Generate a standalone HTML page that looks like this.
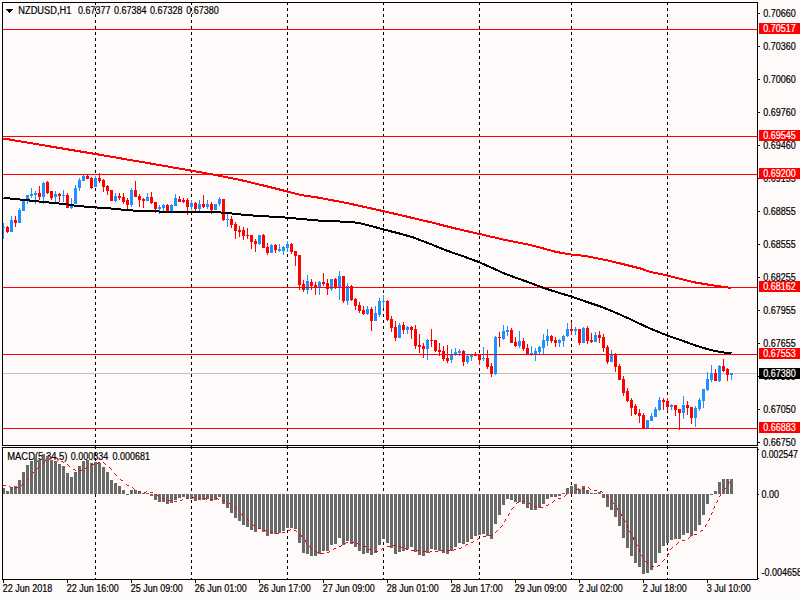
<!DOCTYPE html>
<html><head><meta charset="utf-8"><title>NZDUSD,H1</title>
<style>html,body{margin:0;padding:0;background:#fffafa;overflow:hidden}body{width:800px;height:600px;position:relative}svg{position:absolute;left:0;top:0;display:block}text{font-family:"Liberation Sans",sans-serif;font-size:10px;fill:#000;stroke:#000;stroke-width:.2px}.w{fill:#fff;stroke:#fff}</style>
</head><body>
<svg width="800" height="600" viewBox="0 0 800 600">
<rect x="0" y="0" width="800" height="600" fill="#fffafa"/>
<path shape-rendering="crispEdges" d="M6 9h7v1h-1v1h-1v1h-1v1h-1v-1h-1v-1h-1v-1h-1z" fill="#000"/>
<text x="18.3" y="14" textLength="53.00" lengthAdjust="spacingAndGlyphs">NZDUSD,H1</text>
<text x="78" y="14" textLength="32.53" lengthAdjust="spacingAndGlyphs">0.67377</text>
<text x="114.05" y="14" textLength="32.53" lengthAdjust="spacingAndGlyphs">0.67384</text>
<text x="150.1" y="14" textLength="32.53" lengthAdjust="spacingAndGlyphs">0.67328</text>
<text x="186.15" y="14" textLength="32.53" lengthAdjust="spacingAndGlyphs">0.67380</text>
<text x="7.2" y="460" textLength="60.30" lengthAdjust="spacingAndGlyphs">MACD(5,34,5)</text>
<text x="70.8" y="460" textLength="37.54" lengthAdjust="spacingAndGlyphs">0.000834</text>
<text x="112.5" y="460" textLength="37.54" lengthAdjust="spacingAndGlyphs">0.000681</text>
<g shape-rendering="crispEdges">
<line x1="95.5" y1="2" x2="95.5" y2="579" stroke="#000" stroke-width="1" stroke-dasharray="3 3"/>
<line x1="191.5" y1="2" x2="191.5" y2="579" stroke="#000" stroke-width="1" stroke-dasharray="3 3"/>
<line x1="287.5" y1="2" x2="287.5" y2="579" stroke="#000" stroke-width="1" stroke-dasharray="3 3"/>
<line x1="383.5" y1="2" x2="383.5" y2="579" stroke="#000" stroke-width="1" stroke-dasharray="3 3"/>
<line x1="479.5" y1="2" x2="479.5" y2="579" stroke="#000" stroke-width="1" stroke-dasharray="3 3"/>
<line x1="571.5" y1="2" x2="571.5" y2="579" stroke="#000" stroke-width="1" stroke-dasharray="3 3"/>
<line x1="667.5" y1="2" x2="667.5" y2="579" stroke="#000" stroke-width="1" stroke-dasharray="3 3"/>
<rect x="3" y="373" width="754" height="1" fill="#c0c0c0"/>
<rect x="3" y="223" width="1" height="16" fill="#1e90ff"/>
<rect x="2" y="227" width="3" height="1" fill="#1e90ff"/>
<rect x="7" y="226" width="1" height="7" fill="#ff0000"/>
<rect x="6" y="227" width="3" height="5" fill="#ff0000"/>
<rect x="11" y="216" width="1" height="16" fill="#1e90ff"/>
<rect x="10" y="220" width="3" height="12" fill="#1e90ff"/>
<rect x="15" y="216" width="1" height="11" fill="#ff0000"/>
<rect x="14" y="220" width="3" height="3" fill="#ff0000"/>
<rect x="19" y="208" width="1" height="15" fill="#1e90ff"/>
<rect x="18" y="210" width="3" height="13" fill="#1e90ff"/>
<rect x="23" y="199" width="1" height="12" fill="#1e90ff"/>
<rect x="22" y="200" width="3" height="11" fill="#1e90ff"/>
<rect x="27" y="195" width="1" height="9" fill="#1e90ff"/>
<rect x="26" y="195" width="3" height="5" fill="#1e90ff"/>
<rect x="31" y="188" width="1" height="10" fill="#1e90ff"/>
<rect x="30" y="194" width="3" height="2" fill="#1e90ff"/>
<rect x="35" y="191" width="1" height="13" fill="#1e90ff"/>
<rect x="34" y="193" width="3" height="2" fill="#1e90ff"/>
<rect x="39" y="186" width="1" height="14" fill="#ff0000"/>
<rect x="38" y="193" width="3" height="4" fill="#ff0000"/>
<rect x="43" y="182" width="1" height="22" fill="#1e90ff"/>
<rect x="42" y="183" width="3" height="14" fill="#1e90ff"/>
<rect x="47" y="181" width="1" height="13" fill="#ff0000"/>
<rect x="46" y="182" width="3" height="11" fill="#ff0000"/>
<rect x="51" y="191" width="1" height="9" fill="#ff0000"/>
<rect x="50" y="191" width="3" height="7" fill="#ff0000"/>
<rect x="55" y="191" width="1" height="11" fill="#1e90ff"/>
<rect x="54" y="194" width="3" height="3" fill="#1e90ff"/>
<rect x="59" y="193" width="1" height="9" fill="#ff0000"/>
<rect x="58" y="194" width="3" height="2" fill="#ff0000"/>
<rect x="63" y="190" width="1" height="12" fill="#1e90ff"/>
<rect x="62" y="195" width="3" height="1" fill="#1e90ff"/>
<rect x="67" y="193" width="1" height="15" fill="#ff0000"/>
<rect x="66" y="195" width="3" height="13" fill="#ff0000"/>
<rect x="71" y="198" width="1" height="11" fill="#1e90ff"/>
<rect x="70" y="204" width="3" height="4" fill="#1e90ff"/>
<rect x="75" y="185" width="1" height="19" fill="#1e90ff"/>
<rect x="74" y="188" width="3" height="16" fill="#1e90ff"/>
<rect x="79" y="178" width="1" height="13" fill="#1e90ff"/>
<rect x="78" y="180" width="3" height="8" fill="#1e90ff"/>
<rect x="83" y="175" width="1" height="6" fill="#1e90ff"/>
<rect x="82" y="176" width="3" height="5" fill="#1e90ff"/>
<rect x="87" y="175" width="1" height="4" fill="#ff0000"/>
<rect x="86" y="176" width="3" height="3" fill="#ff0000"/>
<rect x="91" y="177" width="1" height="12" fill="#ff0000"/>
<rect x="90" y="178" width="3" height="10" fill="#ff0000"/>
<rect x="95" y="176" width="1" height="11" fill="#1e90ff"/>
<rect x="94" y="178" width="3" height="9" fill="#1e90ff"/>
<rect x="99" y="173" width="1" height="10" fill="#ff0000"/>
<rect x="98" y="178" width="3" height="3" fill="#ff0000"/>
<rect x="103" y="179" width="1" height="13" fill="#ff0000"/>
<rect x="102" y="180" width="3" height="7" fill="#ff0000"/>
<rect x="107" y="185" width="1" height="10" fill="#ff0000"/>
<rect x="106" y="186" width="3" height="5" fill="#ff0000"/>
<rect x="111" y="190" width="1" height="11" fill="#ff0000"/>
<rect x="110" y="190" width="3" height="11" fill="#ff0000"/>
<rect x="115" y="193" width="1" height="9" fill="#1e90ff"/>
<rect x="114" y="196" width="3" height="5" fill="#1e90ff"/>
<rect x="119" y="193" width="1" height="7" fill="#ff0000"/>
<rect x="118" y="196" width="3" height="2" fill="#ff0000"/>
<rect x="123" y="193" width="1" height="11" fill="#ff0000"/>
<rect x="122" y="197" width="3" height="5" fill="#ff0000"/>
<rect x="127" y="198" width="1" height="11" fill="#ff0000"/>
<rect x="126" y="200" width="3" height="5" fill="#ff0000"/>
<rect x="131" y="188" width="1" height="19" fill="#1e90ff"/>
<rect x="130" y="190" width="3" height="15" fill="#1e90ff"/>
<rect x="135" y="181" width="1" height="16" fill="#ff0000"/>
<rect x="134" y="190" width="3" height="7" fill="#ff0000"/>
<rect x="139" y="194" width="1" height="13" fill="#ff0000"/>
<rect x="138" y="196" width="3" height="4" fill="#ff0000"/>
<rect x="143" y="198" width="1" height="10" fill="#ff0000"/>
<rect x="142" y="199" width="3" height="2" fill="#ff0000"/>
<rect x="147" y="193" width="1" height="8" fill="#1e90ff"/>
<rect x="146" y="197" width="3" height="4" fill="#1e90ff"/>
<rect x="151" y="192" width="1" height="12" fill="#ff0000"/>
<rect x="150" y="197" width="3" height="6" fill="#ff0000"/>
<rect x="155" y="202" width="1" height="11" fill="#ff0000"/>
<rect x="154" y="202" width="3" height="7" fill="#ff0000"/>
<rect x="159" y="205" width="1" height="9" fill="#1e90ff"/>
<rect x="158" y="207" width="3" height="2" fill="#1e90ff"/>
<rect x="163" y="204" width="1" height="7" fill="#1e90ff"/>
<rect x="162" y="205" width="3" height="3" fill="#1e90ff"/>
<rect x="167" y="204" width="1" height="7" fill="#ff0000"/>
<rect x="166" y="205" width="3" height="6" fill="#ff0000"/>
<rect x="171" y="204" width="1" height="7" fill="#1e90ff"/>
<rect x="170" y="205" width="3" height="6" fill="#1e90ff"/>
<rect x="175" y="194" width="1" height="12" fill="#1e90ff"/>
<rect x="174" y="198" width="3" height="8" fill="#1e90ff"/>
<rect x="179" y="196" width="1" height="6" fill="#ff0000"/>
<rect x="178" y="199" width="3" height="3" fill="#ff0000"/>
<rect x="183" y="198" width="1" height="5" fill="#ff0000"/>
<rect x="182" y="200" width="3" height="2" fill="#ff0000"/>
<rect x="187" y="198" width="1" height="17" fill="#ff0000"/>
<rect x="186" y="200" width="3" height="7" fill="#ff0000"/>
<rect x="191" y="200" width="1" height="10" fill="#1e90ff"/>
<rect x="190" y="203" width="3" height="4" fill="#1e90ff"/>
<rect x="195" y="202" width="1" height="9" fill="#ff0000"/>
<rect x="194" y="203" width="3" height="6" fill="#ff0000"/>
<rect x="199" y="200" width="1" height="11" fill="#1e90ff"/>
<rect x="198" y="204" width="3" height="5" fill="#1e90ff"/>
<rect x="203" y="195" width="1" height="13" fill="#ff0000"/>
<rect x="202" y="204" width="3" height="3" fill="#ff0000"/>
<rect x="207" y="200" width="1" height="9" fill="#1e90ff"/>
<rect x="206" y="204" width="3" height="3" fill="#1e90ff"/>
<rect x="211" y="202" width="1" height="12" fill="#ff0000"/>
<rect x="210" y="204" width="3" height="6" fill="#ff0000"/>
<rect x="215" y="204" width="1" height="6" fill="#1e90ff"/>
<rect x="214" y="204" width="3" height="6" fill="#1e90ff"/>
<rect x="219" y="197" width="1" height="9" fill="#1e90ff"/>
<rect x="218" y="199" width="3" height="5" fill="#1e90ff"/>
<rect x="223" y="199" width="1" height="22" fill="#ff0000"/>
<rect x="222" y="199" width="3" height="21" fill="#ff0000"/>
<rect x="227" y="214" width="1" height="13" fill="#1e90ff"/>
<rect x="226" y="219" width="3" height="1" fill="#1e90ff"/>
<rect x="231" y="216" width="1" height="12" fill="#ff0000"/>
<rect x="230" y="219" width="3" height="6" fill="#ff0000"/>
<rect x="235" y="222" width="1" height="17" fill="#ff0000"/>
<rect x="234" y="224" width="3" height="7" fill="#ff0000"/>
<rect x="239" y="226" width="1" height="11" fill="#ff0000"/>
<rect x="238" y="230" width="3" height="2" fill="#ff0000"/>
<rect x="243" y="227" width="1" height="13" fill="#ff0000"/>
<rect x="242" y="230" width="3" height="6" fill="#ff0000"/>
<rect x="247" y="228" width="1" height="11" fill="#ff0000"/>
<rect x="246" y="235" width="3" height="1" fill="#ff0000"/>
<rect x="251" y="235" width="1" height="14" fill="#ff0000"/>
<rect x="250" y="235" width="3" height="7" fill="#ff0000"/>
<rect x="255" y="239" width="1" height="13" fill="#ff0000"/>
<rect x="254" y="241" width="3" height="3" fill="#ff0000"/>
<rect x="259" y="235" width="1" height="10" fill="#1e90ff"/>
<rect x="258" y="235" width="3" height="9" fill="#1e90ff"/>
<rect x="263" y="234" width="1" height="14" fill="#ff0000"/>
<rect x="262" y="235" width="3" height="13" fill="#ff0000"/>
<rect x="267" y="243" width="1" height="12" fill="#ff0000"/>
<rect x="266" y="247" width="3" height="6" fill="#ff0000"/>
<rect x="271" y="244" width="1" height="9" fill="#1e90ff"/>
<rect x="270" y="245" width="3" height="8" fill="#1e90ff"/>
<rect x="275" y="244" width="1" height="9" fill="#ff0000"/>
<rect x="274" y="245" width="3" height="5" fill="#ff0000"/>
<rect x="279" y="244" width="1" height="8" fill="#1e90ff"/>
<rect x="278" y="249" width="3" height="2" fill="#1e90ff"/>
<rect x="283" y="246" width="1" height="9" fill="#1e90ff"/>
<rect x="282" y="247" width="3" height="4" fill="#1e90ff"/>
<rect x="287" y="241" width="1" height="11" fill="#1e90ff"/>
<rect x="286" y="244" width="3" height="4" fill="#1e90ff"/>
<rect x="291" y="243" width="1" height="11" fill="#ff0000"/>
<rect x="290" y="244" width="3" height="8" fill="#ff0000"/>
<rect x="295" y="251" width="1" height="15" fill="#ff0000"/>
<rect x="294" y="251" width="3" height="5" fill="#ff0000"/>
<rect x="299" y="255" width="1" height="35" fill="#ff0000"/>
<rect x="298" y="255" width="3" height="30" fill="#ff0000"/>
<rect x="303" y="280" width="1" height="12" fill="#ff0000"/>
<rect x="302" y="284" width="3" height="6" fill="#ff0000"/>
<rect x="307" y="275" width="1" height="19" fill="#1e90ff"/>
<rect x="306" y="281" width="3" height="9" fill="#1e90ff"/>
<rect x="311" y="279" width="1" height="11" fill="#ff0000"/>
<rect x="310" y="282" width="3" height="4" fill="#ff0000"/>
<rect x="315" y="282" width="1" height="13" fill="#ff0000"/>
<rect x="314" y="285" width="3" height="2" fill="#ff0000"/>
<rect x="319" y="281" width="1" height="14" fill="#1e90ff"/>
<rect x="318" y="282" width="3" height="5" fill="#1e90ff"/>
<rect x="323" y="273" width="1" height="13" fill="#ff0000"/>
<rect x="322" y="282" width="3" height="2" fill="#ff0000"/>
<rect x="327" y="279" width="1" height="16" fill="#ff0000"/>
<rect x="326" y="283" width="3" height="6" fill="#ff0000"/>
<rect x="331" y="279" width="1" height="12" fill="#1e90ff"/>
<rect x="330" y="279" width="3" height="10" fill="#1e90ff"/>
<rect x="335" y="278" width="1" height="11" fill="#ff0000"/>
<rect x="334" y="279" width="3" height="9" fill="#ff0000"/>
<rect x="339" y="271" width="1" height="29" fill="#1e90ff"/>
<rect x="338" y="276" width="3" height="11" fill="#1e90ff"/>
<rect x="343" y="276" width="1" height="27" fill="#ff0000"/>
<rect x="342" y="276" width="3" height="25" fill="#ff0000"/>
<rect x="347" y="283" width="1" height="22" fill="#1e90ff"/>
<rect x="346" y="286" width="3" height="15" fill="#1e90ff"/>
<rect x="351" y="285" width="1" height="16" fill="#ff0000"/>
<rect x="350" y="286" width="3" height="14" fill="#ff0000"/>
<rect x="355" y="298" width="1" height="12" fill="#ff0000"/>
<rect x="354" y="299" width="3" height="7" fill="#ff0000"/>
<rect x="359" y="302" width="1" height="11" fill="#ff0000"/>
<rect x="358" y="305" width="3" height="6" fill="#ff0000"/>
<rect x="363" y="306" width="1" height="9" fill="#ff0000"/>
<rect x="362" y="310" width="3" height="4" fill="#ff0000"/>
<rect x="367" y="306" width="1" height="9" fill="#1e90ff"/>
<rect x="366" y="309" width="3" height="5" fill="#1e90ff"/>
<rect x="371" y="307" width="1" height="24" fill="#ff0000"/>
<rect x="370" y="309" width="3" height="12" fill="#ff0000"/>
<rect x="375" y="306" width="1" height="15" fill="#1e90ff"/>
<rect x="374" y="313" width="3" height="8" fill="#1e90ff"/>
<rect x="379" y="298" width="1" height="19" fill="#1e90ff"/>
<rect x="378" y="301" width="3" height="14" fill="#1e90ff"/>
<rect x="383" y="295" width="1" height="13" fill="#1e90ff"/>
<rect x="382" y="301" width="3" height="1" fill="#1e90ff"/>
<rect x="387" y="300" width="1" height="21" fill="#ff0000"/>
<rect x="386" y="301" width="3" height="19" fill="#ff0000"/>
<rect x="391" y="316" width="1" height="16" fill="#ff0000"/>
<rect x="390" y="319" width="3" height="9" fill="#ff0000"/>
<rect x="395" y="321" width="1" height="20" fill="#ff0000"/>
<rect x="394" y="327" width="3" height="11" fill="#ff0000"/>
<rect x="399" y="323" width="1" height="15" fill="#1e90ff"/>
<rect x="398" y="325" width="3" height="13" fill="#1e90ff"/>
<rect x="403" y="322" width="1" height="12" fill="#ff0000"/>
<rect x="402" y="325" width="3" height="5" fill="#ff0000"/>
<rect x="407" y="326" width="1" height="8" fill="#1e90ff"/>
<rect x="406" y="327" width="3" height="3" fill="#1e90ff"/>
<rect x="411" y="326" width="1" height="13" fill="#ff0000"/>
<rect x="410" y="327" width="3" height="3" fill="#ff0000"/>
<rect x="415" y="325" width="1" height="24" fill="#ff0000"/>
<rect x="414" y="329" width="3" height="17" fill="#ff0000"/>
<rect x="419" y="334" width="1" height="19" fill="#ff0000"/>
<rect x="418" y="345" width="3" height="2" fill="#ff0000"/>
<rect x="423" y="343" width="1" height="15" fill="#ff0000"/>
<rect x="422" y="346" width="3" height="3" fill="#ff0000"/>
<rect x="427" y="339" width="1" height="21" fill="#1e90ff"/>
<rect x="426" y="340" width="3" height="9" fill="#1e90ff"/>
<rect x="431" y="329" width="1" height="18" fill="#ff0000"/>
<rect x="430" y="340" width="3" height="1" fill="#ff0000"/>
<rect x="435" y="340" width="1" height="12" fill="#ff0000"/>
<rect x="434" y="340" width="3" height="11" fill="#ff0000"/>
<rect x="439" y="343" width="1" height="13" fill="#ff0000"/>
<rect x="438" y="350" width="3" height="2" fill="#ff0000"/>
<rect x="443" y="346" width="1" height="15" fill="#ff0000"/>
<rect x="442" y="351" width="3" height="8" fill="#ff0000"/>
<rect x="447" y="345" width="1" height="18" fill="#ff0000"/>
<rect x="446" y="358" width="3" height="3" fill="#ff0000"/>
<rect x="451" y="349" width="1" height="14" fill="#1e90ff"/>
<rect x="450" y="355" width="3" height="5" fill="#1e90ff"/>
<rect x="455" y="348" width="1" height="8" fill="#1e90ff"/>
<rect x="454" y="352" width="3" height="2" fill="#1e90ff"/>
<rect x="459" y="349" width="1" height="7" fill="#1e90ff"/>
<rect x="458" y="351" width="3" height="2" fill="#1e90ff"/>
<rect x="463" y="350" width="1" height="16" fill="#ff0000"/>
<rect x="462" y="351" width="3" height="11" fill="#ff0000"/>
<rect x="467" y="355" width="1" height="9" fill="#1e90ff"/>
<rect x="466" y="356" width="3" height="6" fill="#1e90ff"/>
<rect x="471" y="355" width="1" height="6" fill="#1e90ff"/>
<rect x="470" y="355" width="3" height="2" fill="#1e90ff"/>
<rect x="475" y="352" width="1" height="4" fill="#ff0000"/>
<rect x="474" y="354" width="3" height="2" fill="#ff0000"/>
<rect x="479" y="354" width="1" height="11" fill="#ff0000"/>
<rect x="478" y="354" width="3" height="6" fill="#ff0000"/>
<rect x="483" y="347" width="1" height="14" fill="#1e90ff"/>
<rect x="482" y="358" width="3" height="1" fill="#1e90ff"/>
<rect x="487" y="350" width="1" height="19" fill="#ff0000"/>
<rect x="486" y="358" width="3" height="9" fill="#ff0000"/>
<rect x="491" y="363" width="1" height="14" fill="#ff0000"/>
<rect x="490" y="366" width="3" height="8" fill="#ff0000"/>
<rect x="495" y="336" width="1" height="39" fill="#1e90ff"/>
<rect x="494" y="337" width="3" height="37" fill="#1e90ff"/>
<rect x="499" y="332" width="1" height="15" fill="#ff0000"/>
<rect x="498" y="337" width="3" height="1" fill="#ff0000"/>
<rect x="503" y="325" width="1" height="15" fill="#1e90ff"/>
<rect x="502" y="331" width="3" height="8" fill="#1e90ff"/>
<rect x="507" y="326" width="1" height="10" fill="#1e90ff"/>
<rect x="506" y="330" width="3" height="2" fill="#1e90ff"/>
<rect x="511" y="328" width="1" height="15" fill="#ff0000"/>
<rect x="510" y="330" width="3" height="13" fill="#ff0000"/>
<rect x="515" y="337" width="1" height="10" fill="#ff0000"/>
<rect x="514" y="342" width="3" height="4" fill="#ff0000"/>
<rect x="519" y="331" width="1" height="17" fill="#1e90ff"/>
<rect x="518" y="341" width="3" height="5" fill="#1e90ff"/>
<rect x="523" y="338" width="1" height="13" fill="#ff0000"/>
<rect x="522" y="341" width="3" height="8" fill="#ff0000"/>
<rect x="527" y="344" width="1" height="10" fill="#ff0000"/>
<rect x="526" y="348" width="3" height="6" fill="#ff0000"/>
<rect x="531" y="346" width="1" height="10" fill="#1e90ff"/>
<rect x="530" y="353" width="3" height="1" fill="#1e90ff"/>
<rect x="535" y="348" width="1" height="13" fill="#1e90ff"/>
<rect x="534" y="351" width="3" height="3" fill="#1e90ff"/>
<rect x="539" y="346" width="1" height="8" fill="#1e90ff"/>
<rect x="538" y="347" width="3" height="5" fill="#1e90ff"/>
<rect x="543" y="334" width="1" height="20" fill="#1e90ff"/>
<rect x="542" y="340" width="3" height="8" fill="#1e90ff"/>
<rect x="547" y="329" width="1" height="17" fill="#1e90ff"/>
<rect x="546" y="336" width="3" height="5" fill="#1e90ff"/>
<rect x="551" y="335" width="1" height="8" fill="#ff0000"/>
<rect x="550" y="336" width="3" height="5" fill="#ff0000"/>
<rect x="555" y="337" width="1" height="10" fill="#ff0000"/>
<rect x="554" y="340" width="3" height="3" fill="#ff0000"/>
<rect x="559" y="339" width="1" height="8" fill="#1e90ff"/>
<rect x="558" y="340" width="3" height="3" fill="#1e90ff"/>
<rect x="563" y="335" width="1" height="12" fill="#1e90ff"/>
<rect x="562" y="336" width="3" height="5" fill="#1e90ff"/>
<rect x="567" y="323" width="1" height="14" fill="#1e90ff"/>
<rect x="566" y="329" width="3" height="7" fill="#1e90ff"/>
<rect x="571" y="322" width="1" height="13" fill="#ff0000"/>
<rect x="570" y="329" width="3" height="2" fill="#ff0000"/>
<rect x="575" y="327" width="1" height="8" fill="#1e90ff"/>
<rect x="574" y="329" width="3" height="2" fill="#1e90ff"/>
<rect x="579" y="329" width="1" height="16" fill="#ff0000"/>
<rect x="578" y="329" width="3" height="14" fill="#ff0000"/>
<rect x="583" y="327" width="1" height="16" fill="#1e90ff"/>
<rect x="582" y="328" width="3" height="15" fill="#1e90ff"/>
<rect x="587" y="326" width="1" height="18" fill="#ff0000"/>
<rect x="586" y="328" width="3" height="13" fill="#ff0000"/>
<rect x="591" y="333" width="1" height="10" fill="#ff0000"/>
<rect x="590" y="340" width="3" height="2" fill="#ff0000"/>
<rect x="595" y="332" width="1" height="10" fill="#1e90ff"/>
<rect x="594" y="335" width="3" height="7" fill="#1e90ff"/>
<rect x="599" y="331" width="1" height="12" fill="#ff0000"/>
<rect x="598" y="335" width="3" height="3" fill="#ff0000"/>
<rect x="603" y="334" width="1" height="18" fill="#ff0000"/>
<rect x="602" y="337" width="3" height="11" fill="#ff0000"/>
<rect x="607" y="345" width="1" height="19" fill="#ff0000"/>
<rect x="606" y="347" width="3" height="15" fill="#ff0000"/>
<rect x="611" y="350" width="1" height="12" fill="#1e90ff"/>
<rect x="610" y="355" width="3" height="7" fill="#1e90ff"/>
<rect x="615" y="353" width="1" height="19" fill="#ff0000"/>
<rect x="614" y="354" width="3" height="13" fill="#ff0000"/>
<rect x="619" y="364" width="1" height="16" fill="#ff0000"/>
<rect x="618" y="366" width="3" height="14" fill="#ff0000"/>
<rect x="623" y="376" width="1" height="20" fill="#ff0000"/>
<rect x="622" y="379" width="3" height="14" fill="#ff0000"/>
<rect x="627" y="388" width="1" height="14" fill="#ff0000"/>
<rect x="626" y="391" width="3" height="10" fill="#ff0000"/>
<rect x="631" y="398" width="1" height="18" fill="#ff0000"/>
<rect x="630" y="400" width="3" height="8" fill="#ff0000"/>
<rect x="635" y="404" width="1" height="11" fill="#ff0000"/>
<rect x="634" y="406" width="3" height="8" fill="#ff0000"/>
<rect x="639" y="409" width="1" height="14" fill="#ff0000"/>
<rect x="638" y="413" width="3" height="3" fill="#ff0000"/>
<rect x="643" y="413" width="1" height="15" fill="#ff0000"/>
<rect x="642" y="415" width="3" height="13" fill="#ff0000"/>
<rect x="647" y="420" width="1" height="8" fill="#1e90ff"/>
<rect x="646" y="420" width="3" height="8" fill="#1e90ff"/>
<rect x="651" y="413" width="1" height="8" fill="#1e90ff"/>
<rect x="650" y="416" width="3" height="5" fill="#1e90ff"/>
<rect x="655" y="407" width="1" height="10" fill="#1e90ff"/>
<rect x="654" y="409" width="3" height="8" fill="#1e90ff"/>
<rect x="659" y="397" width="1" height="14" fill="#1e90ff"/>
<rect x="658" y="400" width="3" height="10" fill="#1e90ff"/>
<rect x="663" y="398" width="1" height="12" fill="#ff0000"/>
<rect x="662" y="400" width="3" height="2" fill="#ff0000"/>
<rect x="667" y="398" width="1" height="13" fill="#ff0000"/>
<rect x="666" y="401" width="3" height="6" fill="#ff0000"/>
<rect x="671" y="404" width="1" height="6" fill="#1e90ff"/>
<rect x="670" y="405" width="3" height="2" fill="#1e90ff"/>
<rect x="675" y="405" width="1" height="11" fill="#ff0000"/>
<rect x="674" y="405" width="3" height="5" fill="#ff0000"/>
<rect x="679" y="409" width="1" height="21" fill="#ff0000"/>
<rect x="678" y="409" width="3" height="4" fill="#ff0000"/>
<rect x="683" y="396" width="1" height="23" fill="#1e90ff"/>
<rect x="682" y="405" width="3" height="8" fill="#1e90ff"/>
<rect x="687" y="401" width="1" height="14" fill="#ff0000"/>
<rect x="686" y="405" width="3" height="3" fill="#ff0000"/>
<rect x="691" y="407" width="1" height="17" fill="#ff0000"/>
<rect x="690" y="407" width="3" height="11" fill="#ff0000"/>
<rect x="695" y="406" width="1" height="21" fill="#1e90ff"/>
<rect x="694" y="408" width="3" height="10" fill="#1e90ff"/>
<rect x="699" y="398" width="1" height="13" fill="#1e90ff"/>
<rect x="698" y="400" width="3" height="9" fill="#1e90ff"/>
<rect x="703" y="389" width="1" height="19" fill="#1e90ff"/>
<rect x="702" y="389" width="3" height="12" fill="#1e90ff"/>
<rect x="707" y="372" width="1" height="19" fill="#1e90ff"/>
<rect x="706" y="379" width="3" height="11" fill="#1e90ff"/>
<rect x="711" y="365" width="1" height="17" fill="#1e90ff"/>
<rect x="710" y="373" width="3" height="7" fill="#1e90ff"/>
<rect x="715" y="369" width="1" height="12" fill="#ff0000"/>
<rect x="714" y="373" width="3" height="8" fill="#ff0000"/>
<rect x="719" y="365" width="1" height="17" fill="#1e90ff"/>
<rect x="718" y="366" width="3" height="15" fill="#1e90ff"/>
<rect x="723" y="359" width="1" height="13" fill="#ff0000"/>
<rect x="722" y="366" width="3" height="5" fill="#ff0000"/>
<rect x="727" y="368" width="1" height="13" fill="#ff0000"/>
<rect x="726" y="369" width="3" height="6" fill="#ff0000"/>
<rect x="731" y="373" width="1" height="7" fill="#1e90ff"/>
<rect x="730" y="373" width="3" height="2" fill="#1e90ff"/>
<rect x="3" y="29" width="754" height="1" fill="#ff0000"/>
<rect x="3" y="136" width="754" height="1" fill="#ff0000"/>
<rect x="3" y="174" width="754" height="1" fill="#ff0000"/>
<rect x="3" y="287" width="754" height="1" fill="#ff0000"/>
<rect x="3" y="354" width="754" height="1" fill="#ff0000"/>
<rect x="3" y="428" width="754" height="1" fill="#ff0000"/>
<rect x="2" y="488" width="3" height="6" fill="#696969"/>
<rect x="6" y="491" width="3" height="3" fill="#696969"/>
<rect x="10" y="487" width="3" height="7" fill="#696969"/>
<rect x="14" y="486" width="3" height="8" fill="#696969"/>
<rect x="18" y="480" width="3" height="14" fill="#696969"/>
<rect x="22" y="472" width="3" height="22" fill="#696969"/>
<rect x="26" y="465" width="3" height="29" fill="#696969"/>
<rect x="30" y="461" width="3" height="33" fill="#696969"/>
<rect x="34" y="458" width="3" height="36" fill="#696969"/>
<rect x="38" y="460" width="3" height="34" fill="#696969"/>
<rect x="42" y="454" width="3" height="40" fill="#696969"/>
<rect x="46" y="456" width="3" height="38" fill="#696969"/>
<rect x="50" y="460" width="3" height="34" fill="#696969"/>
<rect x="54" y="461" width="3" height="33" fill="#696969"/>
<rect x="58" y="464" width="3" height="30" fill="#696969"/>
<rect x="62" y="466" width="3" height="28" fill="#696969"/>
<rect x="66" y="473" width="3" height="21" fill="#696969"/>
<rect x="70" y="477" width="3" height="17" fill="#696969"/>
<rect x="74" y="472" width="3" height="22" fill="#696969"/>
<rect x="78" y="466" width="3" height="28" fill="#696969"/>
<rect x="82" y="461" width="3" height="33" fill="#696969"/>
<rect x="86" y="460" width="3" height="34" fill="#696969"/>
<rect x="90" y="463" width="3" height="31" fill="#696969"/>
<rect x="94" y="462" width="3" height="32" fill="#696969"/>
<rect x="98" y="463" width="3" height="31" fill="#696969"/>
<rect x="102" y="467" width="3" height="27" fill="#696969"/>
<rect x="106" y="472" width="3" height="22" fill="#696969"/>
<rect x="110" y="480" width="3" height="14" fill="#696969"/>
<rect x="114" y="483" width="3" height="11" fill="#696969"/>
<rect x="118" y="486" width="3" height="8" fill="#696969"/>
<rect x="122" y="490" width="3" height="4" fill="#696969"/>
<rect x="126" y="494" width="3" height="1" fill="#696969"/>
<rect x="130" y="490" width="3" height="4" fill="#696969"/>
<rect x="134" y="490" width="3" height="4" fill="#696969"/>
<rect x="138" y="492" width="3" height="2" fill="#696969"/>
<rect x="142" y="493" width="3" height="1" fill="#696969"/>
<rect x="146" y="493" width="3" height="1" fill="#696969"/>
<rect x="150" y="494" width="3" height="2" fill="#696969"/>
<rect x="154" y="494" width="3" height="6" fill="#696969"/>
<rect x="158" y="494" width="3" height="8" fill="#696969"/>
<rect x="162" y="494" width="3" height="8" fill="#696969"/>
<rect x="166" y="494" width="3" height="10" fill="#696969"/>
<rect x="170" y="494" width="3" height="9" fill="#696969"/>
<rect x="174" y="494" width="3" height="6" fill="#696969"/>
<rect x="178" y="494" width="3" height="4" fill="#696969"/>
<rect x="182" y="494" width="3" height="3" fill="#696969"/>
<rect x="186" y="494" width="3" height="5" fill="#696969"/>
<rect x="190" y="494" width="3" height="5" fill="#696969"/>
<rect x="194" y="494" width="3" height="7" fill="#696969"/>
<rect x="198" y="494" width="3" height="6" fill="#696969"/>
<rect x="202" y="494" width="3" height="6" fill="#696969"/>
<rect x="206" y="494" width="3" height="5" fill="#696969"/>
<rect x="210" y="494" width="3" height="7" fill="#696969"/>
<rect x="214" y="494" width="3" height="6" fill="#696969"/>
<rect x="218" y="494" width="3" height="3" fill="#696969"/>
<rect x="222" y="494" width="3" height="10" fill="#696969"/>
<rect x="226" y="494" width="3" height="14" fill="#696969"/>
<rect x="230" y="494" width="3" height="19" fill="#696969"/>
<rect x="234" y="494" width="3" height="24" fill="#696969"/>
<rect x="238" y="494" width="3" height="27" fill="#696969"/>
<rect x="242" y="494" width="3" height="31" fill="#696969"/>
<rect x="246" y="494" width="3" height="33" fill="#696969"/>
<rect x="250" y="494" width="3" height="36" fill="#696969"/>
<rect x="254" y="494" width="3" height="38" fill="#696969"/>
<rect x="258" y="494" width="3" height="35" fill="#696969"/>
<rect x="262" y="494" width="3" height="38" fill="#696969"/>
<rect x="266" y="494" width="3" height="42" fill="#696969"/>
<rect x="270" y="494" width="3" height="40" fill="#696969"/>
<rect x="274" y="494" width="3" height="40" fill="#696969"/>
<rect x="278" y="494" width="3" height="39" fill="#696969"/>
<rect x="282" y="494" width="3" height="37" fill="#696969"/>
<rect x="286" y="494" width="3" height="34" fill="#696969"/>
<rect x="290" y="494" width="3" height="34" fill="#696969"/>
<rect x="294" y="494" width="3" height="35" fill="#696969"/>
<rect x="298" y="494" width="3" height="49" fill="#696969"/>
<rect x="302" y="494" width="3" height="59" fill="#696969"/>
<rect x="306" y="494" width="3" height="60" fill="#696969"/>
<rect x="310" y="494" width="3" height="62" fill="#696969"/>
<rect x="314" y="494" width="3" height="62" fill="#696969"/>
<rect x="318" y="494" width="3" height="60" fill="#696969"/>
<rect x="322" y="494" width="3" height="57" fill="#696969"/>
<rect x="326" y="494" width="3" height="57" fill="#696969"/>
<rect x="330" y="494" width="3" height="51" fill="#696969"/>
<rect x="334" y="494" width="3" height="50" fill="#696969"/>
<rect x="338" y="494" width="3" height="44" fill="#696969"/>
<rect x="342" y="494" width="3" height="51" fill="#696969"/>
<rect x="346" y="494" width="3" height="47" fill="#696969"/>
<rect x="350" y="494" width="3" height="50" fill="#696969"/>
<rect x="354" y="494" width="3" height="53" fill="#696969"/>
<rect x="358" y="494" width="3" height="57" fill="#696969"/>
<rect x="362" y="494" width="3" height="60" fill="#696969"/>
<rect x="366" y="494" width="3" height="59" fill="#696969"/>
<rect x="370" y="494" width="3" height="61" fill="#696969"/>
<rect x="374" y="494" width="3" height="59" fill="#696969"/>
<rect x="378" y="494" width="3" height="51" fill="#696969"/>
<rect x="382" y="494" width="3" height="45" fill="#696969"/>
<rect x="386" y="494" width="3" height="49" fill="#696969"/>
<rect x="390" y="494" width="3" height="54" fill="#696969"/>
<rect x="394" y="494" width="3" height="60" fill="#696969"/>
<rect x="398" y="494" width="3" height="58" fill="#696969"/>
<rect x="402" y="494" width="3" height="57" fill="#696969"/>
<rect x="406" y="494" width="3" height="55" fill="#696969"/>
<rect x="410" y="494" width="3" height="53" fill="#696969"/>
<rect x="414" y="494" width="3" height="58" fill="#696969"/>
<rect x="418" y="494" width="3" height="61" fill="#696969"/>
<rect x="422" y="494" width="3" height="62" fill="#696969"/>
<rect x="426" y="494" width="3" height="59" fill="#696969"/>
<rect x="430" y="494" width="3" height="55" fill="#696969"/>
<rect x="434" y="494" width="3" height="56" fill="#696969"/>
<rect x="438" y="494" width="3" height="57" fill="#696969"/>
<rect x="442" y="494" width="3" height="59" fill="#696969"/>
<rect x="446" y="494" width="3" height="60" fill="#696969"/>
<rect x="450" y="494" width="3" height="57" fill="#696969"/>
<rect x="454" y="494" width="3" height="53" fill="#696969"/>
<rect x="458" y="494" width="3" height="49" fill="#696969"/>
<rect x="462" y="494" width="3" height="50" fill="#696969"/>
<rect x="466" y="494" width="3" height="48" fill="#696969"/>
<rect x="470" y="494" width="3" height="45" fill="#696969"/>
<rect x="474" y="494" width="3" height="42" fill="#696969"/>
<rect x="478" y="494" width="3" height="41" fill="#696969"/>
<rect x="482" y="494" width="3" height="40" fill="#696969"/>
<rect x="486" y="494" width="3" height="42" fill="#696969"/>
<rect x="490" y="494" width="3" height="45" fill="#696969"/>
<rect x="494" y="494" width="3" height="30" fill="#696969"/>
<rect x="498" y="494" width="3" height="21" fill="#696969"/>
<rect x="502" y="494" width="3" height="11" fill="#696969"/>
<rect x="506" y="494" width="3" height="5" fill="#696969"/>
<rect x="510" y="494" width="3" height="6" fill="#696969"/>
<rect x="514" y="494" width="3" height="8" fill="#696969"/>
<rect x="518" y="494" width="3" height="8" fill="#696969"/>
<rect x="522" y="494" width="3" height="10" fill="#696969"/>
<rect x="526" y="494" width="3" height="14" fill="#696969"/>
<rect x="530" y="494" width="3" height="16" fill="#696969"/>
<rect x="534" y="494" width="3" height="16" fill="#696969"/>
<rect x="538" y="494" width="3" height="14" fill="#696969"/>
<rect x="542" y="494" width="3" height="10" fill="#696969"/>
<rect x="546" y="494" width="3" height="5" fill="#696969"/>
<rect x="550" y="494" width="3" height="3" fill="#696969"/>
<rect x="554" y="494" width="3" height="3" fill="#696969"/>
<rect x="558" y="494" width="3" height="2" fill="#696969"/>
<rect x="562" y="493" width="3" height="1" fill="#696969"/>
<rect x="566" y="488" width="3" height="6" fill="#696969"/>
<rect x="570" y="486" width="3" height="8" fill="#696969"/>
<rect x="574" y="484" width="3" height="10" fill="#696969"/>
<rect x="578" y="489" width="3" height="5" fill="#696969"/>
<rect x="582" y="486" width="3" height="8" fill="#696969"/>
<rect x="586" y="490" width="3" height="4" fill="#696969"/>
<rect x="590" y="493" width="3" height="1" fill="#696969"/>
<rect x="594" y="493" width="3" height="1" fill="#696969"/>
<rect x="598" y="492" width="3" height="2" fill="#696969"/>
<rect x="602" y="494" width="3" height="4" fill="#696969"/>
<rect x="606" y="494" width="3" height="13" fill="#696969"/>
<rect x="610" y="494" width="3" height="16" fill="#696969"/>
<rect x="614" y="494" width="3" height="23" fill="#696969"/>
<rect x="618" y="494" width="3" height="32" fill="#696969"/>
<rect x="622" y="494" width="3" height="44" fill="#696969"/>
<rect x="626" y="494" width="3" height="54" fill="#696969"/>
<rect x="630" y="494" width="3" height="62" fill="#696969"/>
<rect x="634" y="494" width="3" height="69" fill="#696969"/>
<rect x="638" y="494" width="3" height="73" fill="#696969"/>
<rect x="642" y="494" width="3" height="80" fill="#696969"/>
<rect x="646" y="494" width="3" height="79" fill="#696969"/>
<rect x="650" y="494" width="3" height="76" fill="#696969"/>
<rect x="654" y="494" width="3" height="69" fill="#696969"/>
<rect x="658" y="494" width="3" height="59" fill="#696969"/>
<rect x="662" y="494" width="3" height="52" fill="#696969"/>
<rect x="666" y="494" width="3" height="49" fill="#696969"/>
<rect x="670" y="494" width="3" height="46" fill="#696969"/>
<rect x="674" y="494" width="3" height="45" fill="#696969"/>
<rect x="678" y="494" width="3" height="45" fill="#696969"/>
<rect x="682" y="494" width="3" height="41" fill="#696969"/>
<rect x="686" y="494" width="3" height="39" fill="#696969"/>
<rect x="690" y="494" width="3" height="42" fill="#696969"/>
<rect x="694" y="494" width="3" height="37" fill="#696969"/>
<rect x="698" y="494" width="3" height="31" fill="#696969"/>
<rect x="702" y="494" width="3" height="21" fill="#696969"/>
<rect x="706" y="494" width="3" height="10" fill="#696969"/>
<rect x="710" y="494" width="3" height="1" fill="#696969"/>
<rect x="714" y="491" width="3" height="3" fill="#696969"/>
<rect x="718" y="482" width="3" height="12" fill="#696969"/>
<rect x="722" y="479" width="3" height="15" fill="#696969"/>
<rect x="726" y="479" width="3" height="15" fill="#696969"/>
<rect x="730" y="479" width="3" height="15" fill="#696969"/>
</g>
<polyline fill="none" shape-rendering="crispEdges" stroke="#ff0000" stroke-width="2" stroke-linejoin="round"  points="3.5,138.5 50.5,146.5 95.5,154 150.5,163.5 191.5,170.7 215.5,175 240.5,180 265.5,186 287.5,191.5 300.5,195 316.5,197.3 340.5,201.8 350.5,203.8 365.5,207.2 384.5,211.4 400.5,215.1 405.5,216.3 430.5,222.2 455.5,228.5 479.5,234 505.5,240 530.5,245 555.5,251.8 571.5,254.6 585.5,256 605.5,260 620.5,263.5 640.5,268.5 650.5,272 667.5,275.5 680.5,279 695.5,282.5 710.5,285 720.5,286.5 731.5,288"/>
<polyline fill="none" shape-rendering="crispEdges" stroke="#000" stroke-width="2" stroke-linejoin="round"  points="3.5,197.8 30.5,200.6 50.5,202.7 66.5,204.3 75.5,205.7 88.5,207 104.5,208 116.5,209 124.5,210 136.5,210.7 150.5,211 158.5,211.5 162.5,212 216.5,212.1 220.5,212.5 232,213.5 240.5,214.5 252.5,215.5 268.5,216.5 284.5,217.5 300.5,218.9 320.5,220.7 335.5,221.3 350.5,222 358.5,223 367.5,225 384.5,229.7 400.5,233.75 412.5,237.2 430.5,244 446.5,250.5 462.5,256 479.5,262.3 505.5,274 530.5,283 545.5,288.6 560.5,293.3 571.5,296.5 585.5,301.5 600.5,306.5 615.5,312.6 630.5,319.3 645.5,326.5 660.5,332.8 667.5,335.6 680.5,340 695.5,345.5 710.5,350 720.5,352 731.5,353.5"/>
<g shape-rendering="crispEdges" fill="#ff0000">
<rect x="50" y="458" width="2" height="1"/>
<rect x="55" y="458" width="3" height="1"/>
<rect x="49" y="459" width="1" height="1"/>
<rect x="45" y="460" width="1" height="1"/>
<rect x="44" y="461" width="1" height="1"/>
<rect x="61" y="461" width="2" height="1"/>
<rect x="43" y="462" width="1" height="1"/>
<rect x="63" y="462" width="1" height="1"/>
<rect x="98" y="462" width="2" height="1"/>
<rect x="103" y="462" width="1" height="1"/>
<rect x="97" y="463" width="1" height="1"/>
<rect x="104" y="463" width="1" height="1"/>
<rect x="67" y="464" width="1" height="1"/>
<rect x="91" y="464" width="3" height="1"/>
<rect x="105" y="464" width="1" height="1"/>
<rect x="68" y="465" width="1" height="1"/>
<rect x="39" y="466" width="1" height="1"/>
<rect x="69" y="466" width="1" height="1"/>
<rect x="38" y="467" width="1" height="1"/>
<rect x="86" y="467" width="2" height="1"/>
<rect x="109" y="467" width="1" height="1"/>
<rect x="37" y="468" width="1" height="1"/>
<rect x="85" y="468" width="1" height="1"/>
<rect x="110" y="468" width="1" height="1"/>
<rect x="73" y="469" width="2" height="1"/>
<rect x="111" y="469" width="1" height="1"/>
<rect x="75" y="470" width="1" height="1"/>
<rect x="79" y="470" width="3" height="1"/>
<rect x="33" y="472" width="1" height="1"/>
<rect x="32" y="473" width="1" height="1"/>
<rect x="114" y="473" width="1" height="1"/>
<rect x="31" y="474" width="1" height="1"/>
<rect x="115" y="474" width="1" height="1"/>
<rect x="116" y="475" width="1" height="1"/>
<rect x="28" y="478" width="1" height="1"/>
<rect x="27" y="479" width="1" height="1"/>
<rect x="120" y="479" width="1" height="1"/>
<rect x="26" y="480" width="1" height="1"/>
<rect x="121" y="480" width="2" height="1"/>
<rect x="729" y="482" width="1" height="1"/>
<rect x="728" y="483" width="1" height="1"/>
<rect x="22" y="484" width="2" height="1"/>
<rect x="126" y="484" width="1" height="1"/>
<rect x="728" y="484" width="1" height="1"/>
<rect x="3" y="485" width="3" height="1"/>
<rect x="21" y="485" width="1" height="1"/>
<rect x="127" y="485" width="2" height="1"/>
<rect x="9" y="486" width="1" height="1"/>
<rect x="10" y="487" width="2" height="1"/>
<rect x="15" y="487" width="3" height="1"/>
<rect x="132" y="487" width="1" height="1"/>
<rect x="588" y="487" width="1" height="1"/>
<rect x="133" y="488" width="1" height="1"/>
<rect x="578" y="488" width="1" height="1"/>
<rect x="582" y="488" width="3" height="1"/>
<rect x="589" y="488" width="1" height="1"/>
<rect x="725" y="488" width="1" height="1"/>
<rect x="134" y="489" width="1" height="1"/>
<rect x="576" y="489" width="2" height="1"/>
<rect x="590" y="489" width="1" height="1"/>
<rect x="724" y="489" width="1" height="1"/>
<rect x="594" y="490" width="3" height="1"/>
<rect x="723" y="490" width="1" height="1"/>
<rect x="138" y="491" width="3" height="1"/>
<rect x="146" y="491" width="1" height="1"/>
<rect x="572" y="491" width="1" height="1"/>
<rect x="600" y="491" width="2" height="1"/>
<rect x="144" y="492" width="2" height="1"/>
<rect x="150" y="492" width="3" height="1"/>
<rect x="570" y="492" width="2" height="1"/>
<rect x="602" y="492" width="1" height="1"/>
<rect x="156" y="494" width="1" height="1"/>
<rect x="566" y="494" width="1" height="1"/>
<rect x="720" y="494" width="1" height="1"/>
<rect x="157" y="495" width="1" height="1"/>
<rect x="565" y="495" width="1" height="1"/>
<rect x="606" y="495" width="1" height="1"/>
<rect x="720" y="495" width="1" height="1"/>
<rect x="158" y="496" width="1" height="1"/>
<rect x="564" y="496" width="1" height="1"/>
<rect x="607" y="496" width="1" height="1"/>
<rect x="719" y="496" width="1" height="1"/>
<rect x="192" y="497" width="2" height="1"/>
<rect x="608" y="497" width="1" height="1"/>
<rect x="162" y="498" width="3" height="1"/>
<rect x="186" y="498" width="3" height="1"/>
<rect x="194" y="498" width="1" height="1"/>
<rect x="198" y="498" width="3" height="1"/>
<rect x="204" y="498" width="2" height="1"/>
<rect x="216" y="498" width="2" height="1"/>
<rect x="558" y="498" width="3" height="1"/>
<rect x="182" y="499" width="1" height="1"/>
<rect x="206" y="499" width="1" height="1"/>
<rect x="210" y="499" width="3" height="1"/>
<rect x="218" y="499" width="1" height="1"/>
<rect x="168" y="500" width="2" height="1"/>
<rect x="180" y="500" width="2" height="1"/>
<rect x="222" y="500" width="3" height="1"/>
<rect x="554" y="500" width="1" height="1"/>
<rect x="717" y="500" width="1" height="1"/>
<rect x="170" y="501" width="1" height="1"/>
<rect x="174" y="501" width="3" height="1"/>
<rect x="522" y="501" width="3" height="1"/>
<rect x="553" y="501" width="1" height="1"/>
<rect x="611" y="501" width="1" height="1"/>
<rect x="717" y="501" width="1" height="1"/>
<rect x="228" y="502" width="1" height="1"/>
<rect x="517" y="502" width="2" height="1"/>
<rect x="528" y="502" width="1" height="1"/>
<rect x="552" y="502" width="1" height="1"/>
<rect x="612" y="502" width="1" height="1"/>
<rect x="716" y="502" width="1" height="1"/>
<rect x="229" y="503" width="1" height="1"/>
<rect x="516" y="503" width="1" height="1"/>
<rect x="529" y="503" width="1" height="1"/>
<rect x="613" y="503" width="1" height="1"/>
<rect x="230" y="504" width="1" height="1"/>
<rect x="530" y="504" width="1" height="1"/>
<rect x="548" y="504" width="1" height="1"/>
<rect x="546" y="505" width="2" height="1"/>
<rect x="534" y="506" width="3" height="1"/>
<rect x="714" y="506" width="1" height="1"/>
<rect x="234" y="507" width="1" height="1"/>
<rect x="513" y="507" width="1" height="1"/>
<rect x="540" y="507" width="3" height="1"/>
<rect x="616" y="507" width="1" height="1"/>
<rect x="714" y="507" width="1" height="1"/>
<rect x="235" y="508" width="1" height="1"/>
<rect x="512" y="508" width="1" height="1"/>
<rect x="617" y="508" width="1" height="1"/>
<rect x="713" y="508" width="1" height="1"/>
<rect x="236" y="509" width="1" height="1"/>
<rect x="511" y="509" width="1" height="1"/>
<rect x="617" y="509" width="1" height="1"/>
<rect x="712" y="512" width="1" height="1"/>
<rect x="240" y="513" width="1" height="1"/>
<rect x="509" y="513" width="1" height="1"/>
<rect x="620" y="513" width="1" height="1"/>
<rect x="711" y="513" width="1" height="1"/>
<rect x="241" y="514" width="1" height="1"/>
<rect x="508" y="514" width="1" height="1"/>
<rect x="621" y="514" width="1" height="1"/>
<rect x="711" y="514" width="1" height="1"/>
<rect x="242" y="515" width="1" height="1"/>
<rect x="508" y="515" width="1" height="1"/>
<rect x="621" y="515" width="1" height="1"/>
<rect x="246" y="518" width="1" height="1"/>
<rect x="709" y="518" width="1" height="1"/>
<rect x="247" y="519" width="1" height="1"/>
<rect x="505" y="519" width="1" height="1"/>
<rect x="623" y="519" width="1" height="1"/>
<rect x="709" y="519" width="1" height="1"/>
<rect x="248" y="520" width="1" height="1"/>
<rect x="505" y="520" width="1" height="1"/>
<rect x="624" y="520" width="1" height="1"/>
<rect x="708" y="520" width="1" height="1"/>
<rect x="504" y="521" width="1" height="1"/>
<rect x="625" y="521" width="1" height="1"/>
<rect x="252" y="524" width="1" height="1"/>
<rect x="706" y="524" width="1" height="1"/>
<rect x="253" y="525" width="2" height="1"/>
<rect x="502" y="525" width="1" height="1"/>
<rect x="627" y="525" width="1" height="1"/>
<rect x="705" y="525" width="1" height="1"/>
<rect x="501" y="526" width="1" height="1"/>
<rect x="627" y="526" width="1" height="1"/>
<rect x="705" y="526" width="1" height="1"/>
<rect x="500" y="527" width="1" height="1"/>
<rect x="627" y="527" width="1" height="1"/>
<rect x="258" y="528" width="3" height="1"/>
<rect x="290" y="529" width="1" height="1"/>
<rect x="264" y="530" width="2" height="1"/>
<rect x="288" y="530" width="2" height="1"/>
<rect x="294" y="530" width="2" height="1"/>
<rect x="497" y="530" width="1" height="1"/>
<rect x="701" y="530" width="2" height="1"/>
<rect x="266" y="531" width="1" height="1"/>
<rect x="296" y="531" width="1" height="1"/>
<rect x="496" y="531" width="1" height="1"/>
<rect x="629" y="531" width="1" height="1"/>
<rect x="700" y="531" width="1" height="1"/>
<rect x="270" y="532" width="3" height="1"/>
<rect x="282" y="532" width="3" height="1"/>
<rect x="495" y="532" width="1" height="1"/>
<rect x="630" y="532" width="1" height="1"/>
<rect x="276" y="533" width="3" height="1"/>
<rect x="631" y="533" width="1" height="1"/>
<rect x="300" y="534" width="1" height="1"/>
<rect x="694" y="534" width="3" height="1"/>
<rect x="301" y="535" width="1" height="1"/>
<rect x="489" y="535" width="3" height="1"/>
<rect x="301" y="536" width="1" height="1"/>
<rect x="483" y="536" width="3" height="1"/>
<rect x="690" y="536" width="1" height="1"/>
<rect x="633" y="537" width="1" height="1"/>
<rect x="689" y="537" width="1" height="1"/>
<rect x="478" y="538" width="2" height="1"/>
<rect x="633" y="538" width="1" height="1"/>
<rect x="688" y="538" width="1" height="1"/>
<rect x="477" y="539" width="1" height="1"/>
<rect x="633" y="539" width="1" height="1"/>
<rect x="305" y="540" width="1" height="1"/>
<rect x="682" y="540" width="3" height="1"/>
<rect x="305" y="541" width="1" height="1"/>
<rect x="473" y="541" width="1" height="1"/>
<rect x="306" y="542" width="1" height="1"/>
<rect x="346" y="542" width="2" height="1"/>
<rect x="351" y="542" width="3" height="1"/>
<rect x="471" y="542" width="2" height="1"/>
<rect x="678" y="542" width="1" height="1"/>
<rect x="345" y="543" width="1" height="1"/>
<rect x="357" y="543" width="1" height="1"/>
<rect x="635" y="543" width="1" height="1"/>
<rect x="677" y="543" width="1" height="1"/>
<rect x="358" y="544" width="2" height="1"/>
<rect x="466" y="544" width="2" height="1"/>
<rect x="636" y="544" width="1" height="1"/>
<rect x="676" y="544" width="1" height="1"/>
<rect x="341" y="545" width="1" height="1"/>
<rect x="393" y="545" width="3" height="1"/>
<rect x="465" y="545" width="1" height="1"/>
<rect x="637" y="545" width="1" height="1"/>
<rect x="309" y="546" width="1" height="1"/>
<rect x="339" y="546" width="2" height="1"/>
<rect x="363" y="546" width="3" height="1"/>
<rect x="387" y="546" width="3" height="1"/>
<rect x="399" y="546" width="2" height="1"/>
<rect x="310" y="547" width="1" height="1"/>
<rect x="401" y="547" width="1" height="1"/>
<rect x="461" y="547" width="1" height="1"/>
<rect x="672" y="547" width="1" height="1"/>
<rect x="311" y="548" width="1" height="1"/>
<rect x="334" y="548" width="2" height="1"/>
<rect x="382" y="548" width="2" height="1"/>
<rect x="405" y="548" width="1" height="1"/>
<rect x="459" y="548" width="2" height="1"/>
<rect x="671" y="548" width="1" height="1"/>
<rect x="333" y="549" width="1" height="1"/>
<rect x="369" y="549" width="2" height="1"/>
<rect x="381" y="549" width="1" height="1"/>
<rect x="406" y="549" width="2" height="1"/>
<rect x="454" y="549" width="2" height="1"/>
<rect x="639" y="549" width="1" height="1"/>
<rect x="670" y="549" width="1" height="1"/>
<rect x="371" y="550" width="1" height="1"/>
<rect x="411" y="550" width="3" height="1"/>
<rect x="417" y="550" width="3" height="1"/>
<rect x="441" y="550" width="3" height="1"/>
<rect x="447" y="550" width="3" height="1"/>
<rect x="453" y="550" width="1" height="1"/>
<rect x="639" y="550" width="1" height="1"/>
<rect x="315" y="551" width="2" height="1"/>
<rect x="329" y="551" width="1" height="1"/>
<rect x="375" y="551" width="3" height="1"/>
<rect x="423" y="551" width="3" height="1"/>
<rect x="430" y="551" width="2" height="1"/>
<rect x="435" y="551" width="3" height="1"/>
<rect x="639" y="551" width="1" height="1"/>
<rect x="317" y="552" width="1" height="1"/>
<rect x="327" y="552" width="2" height="1"/>
<rect x="429" y="552" width="1" height="1"/>
<rect x="321" y="553" width="3" height="1"/>
<rect x="668" y="553" width="1" height="1"/>
<rect x="668" y="554" width="1" height="1"/>
<rect x="641" y="555" width="1" height="1"/>
<rect x="667" y="555" width="1" height="1"/>
<rect x="642" y="556" width="1" height="1"/>
<rect x="643" y="557" width="1" height="1"/>
<rect x="664" y="559" width="1" height="1"/>
<rect x="663" y="560" width="1" height="1"/>
<rect x="645" y="561" width="1" height="1"/>
<rect x="662" y="561" width="1" height="1"/>
<rect x="646" y="562" width="1" height="1"/>
<rect x="647" y="563" width="1" height="1"/>
<rect x="658" y="565" width="2" height="1"/>
<rect x="651" y="566" width="3" height="1"/>
<rect x="657" y="566" width="1" height="1"/>
</g>
<g shape-rendering="crispEdges">
<rect x="2" y="2" width="756" height="1" fill="#000"/>
<rect x="2" y="445" width="756" height="1" fill="#000"/>
<rect x="2" y="447" width="756" height="1" fill="#000"/>
<rect x="2" y="579" width="756" height="1" fill="#000"/>
<rect x="2" y="2" width="1" height="444" fill="#000"/>
<rect x="2" y="447" width="1" height="133" fill="#000"/>
<rect x="757" y="2" width="1" height="444" fill="#000"/>
<rect x="757" y="447" width="1" height="133" fill="#000"/>
<rect x="758" y="13" width="2" height="1" fill="#000"/>
<rect x="758" y="46" width="2" height="1" fill="#000"/>
<rect x="758" y="79" width="2" height="1" fill="#000"/>
<rect x="758" y="112" width="2" height="1" fill="#000"/>
<rect x="758" y="145" width="2" height="1" fill="#000"/>
<rect x="758" y="178" width="2" height="1" fill="#000"/>
<rect x="758" y="211" width="2" height="1" fill="#000"/>
<rect x="758" y="244" width="2" height="1" fill="#000"/>
<rect x="758" y="277" width="2" height="1" fill="#000"/>
<rect x="758" y="310" width="2" height="1" fill="#000"/>
<rect x="758" y="343" width="2" height="1" fill="#000"/>
<rect x="758" y="376" width="2" height="1" fill="#000"/>
<rect x="758" y="409" width="2" height="1" fill="#000"/>
<rect x="758" y="442" width="2" height="1" fill="#000"/>
<rect x="758" y="449" width="1" height="1" fill="#000"/>
<rect x="758" y="494" width="1" height="1" fill="#000"/>
<rect x="758" y="578" width="1" height="1" fill="#000"/>
<rect x="3" y="580" width="1" height="3" fill="#000"/>
<rect x="67" y="580" width="1" height="3" fill="#000"/>
<rect x="131" y="580" width="1" height="3" fill="#000"/>
<rect x="195" y="580" width="1" height="3" fill="#000"/>
<rect x="259" y="580" width="1" height="3" fill="#000"/>
<rect x="323" y="580" width="1" height="3" fill="#000"/>
<rect x="387" y="580" width="1" height="3" fill="#000"/>
<rect x="451" y="580" width="1" height="3" fill="#000"/>
<rect x="515" y="580" width="1" height="3" fill="#000"/>
<rect x="579" y="580" width="1" height="3" fill="#000"/>
<rect x="643" y="580" width="1" height="3" fill="#000"/>
<rect x="707" y="580" width="1" height="3" fill="#000"/>
</g>
<text x="763.2" y="17" textLength="32.53" lengthAdjust="spacingAndGlyphs">0.70660</text>
<text x="763.2" y="50" textLength="32.53" lengthAdjust="spacingAndGlyphs">0.70360</text>
<text x="763.2" y="83" textLength="32.53" lengthAdjust="spacingAndGlyphs">0.70060</text>
<text x="763.2" y="116" textLength="32.53" lengthAdjust="spacingAndGlyphs">0.69760</text>
<text x="763.2" y="149" textLength="32.53" lengthAdjust="spacingAndGlyphs">0.69460</text>
<text x="763.2" y="182" textLength="32.53" lengthAdjust="spacingAndGlyphs">0.69155</text>
<text x="763.2" y="215" textLength="32.53" lengthAdjust="spacingAndGlyphs">0.68855</text>
<text x="763.2" y="248" textLength="32.53" lengthAdjust="spacingAndGlyphs">0.68555</text>
<text x="763.2" y="281" textLength="32.53" lengthAdjust="spacingAndGlyphs">0.68255</text>
<text x="763.2" y="314" textLength="32.53" lengthAdjust="spacingAndGlyphs">0.67955</text>
<text x="763.2" y="347" textLength="32.53" lengthAdjust="spacingAndGlyphs">0.67655</text>
<text x="763.2" y="380" textLength="32.53" lengthAdjust="spacingAndGlyphs">0.67355</text>
<text x="763.2" y="413" textLength="32.53" lengthAdjust="spacingAndGlyphs">0.67050</text>
<text x="763.2" y="446" textLength="32.53" lengthAdjust="spacingAndGlyphs">0.66750</text>
<text x="761.4" y="458" textLength="36.60" lengthAdjust="spacingAndGlyphs">0.002547</text>
<text x="761.4" y="498" textLength="17.52" lengthAdjust="spacingAndGlyphs">0.00</text>
<text x="761.4" y="576" textLength="40.53" lengthAdjust="spacingAndGlyphs">-0.004658</text>
<text x="2.8" y="592" textLength="49.54" lengthAdjust="spacingAndGlyphs">22 Jun 2018</text>
<text x="66.8" y="592" textLength="52.04" lengthAdjust="spacingAndGlyphs">22 Jun 16:00</text>
<text x="130.8" y="592" textLength="52.04" lengthAdjust="spacingAndGlyphs">25 Jun 09:00</text>
<text x="194.8" y="592" textLength="52.04" lengthAdjust="spacingAndGlyphs">26 Jun 01:00</text>
<text x="258.8" y="592" textLength="52.04" lengthAdjust="spacingAndGlyphs">26 Jun 17:00</text>
<text x="322.8" y="592" textLength="52.04" lengthAdjust="spacingAndGlyphs">27 Jun 09:00</text>
<text x="386.8" y="592" textLength="52.04" lengthAdjust="spacingAndGlyphs">28 Jun 01:00</text>
<text x="450.8" y="592" textLength="52.04" lengthAdjust="spacingAndGlyphs">28 Jun 17:00</text>
<text x="514.8" y="592" textLength="52.04" lengthAdjust="spacingAndGlyphs">29 Jun 09:00</text>
<text x="578.8" y="592" textLength="44.03" lengthAdjust="spacingAndGlyphs">2 Jul 02:00</text>
<text x="642.8" y="592" textLength="44.03" lengthAdjust="spacingAndGlyphs">2 Jul 18:00</text>
<text x="706.8" y="592" textLength="44.03" lengthAdjust="spacingAndGlyphs">3 Jul 10:00</text>
<g shape-rendering="crispEdges">
<rect x="759" y="23" width="41" height="11" fill="#ff0000"/>
<rect x="759" y="130" width="41" height="11" fill="#ff0000"/>
<rect x="759" y="168" width="41" height="11" fill="#ff0000"/>
<rect x="759" y="281" width="41" height="11" fill="#ff0000"/>
<rect x="759" y="348" width="41" height="11" fill="#ff0000"/>
<rect x="759" y="422" width="41" height="11" fill="#ff0000"/>
<rect x="759" y="368" width="41" height="11" fill="#000"/>
</g>
<text x="763.2" y="32" textLength="32.53" lengthAdjust="spacingAndGlyphs" class="w">0.70517</text>
<text x="763.2" y="139" textLength="32.53" lengthAdjust="spacingAndGlyphs" class="w">0.69545</text>
<text x="763.2" y="177" textLength="32.53" lengthAdjust="spacingAndGlyphs" class="w">0.69200</text>
<text x="763.2" y="290" textLength="32.53" lengthAdjust="spacingAndGlyphs" class="w">0.68162</text>
<text x="763.2" y="357" textLength="32.53" lengthAdjust="spacingAndGlyphs" class="w">0.67553</text>
<text x="763.2" y="431" textLength="32.53" lengthAdjust="spacingAndGlyphs" class="w">0.66883</text>
<text x="763.2" y="377" textLength="32.53" lengthAdjust="spacingAndGlyphs" class="w">0.67380</text>
</svg>
</body></html>
